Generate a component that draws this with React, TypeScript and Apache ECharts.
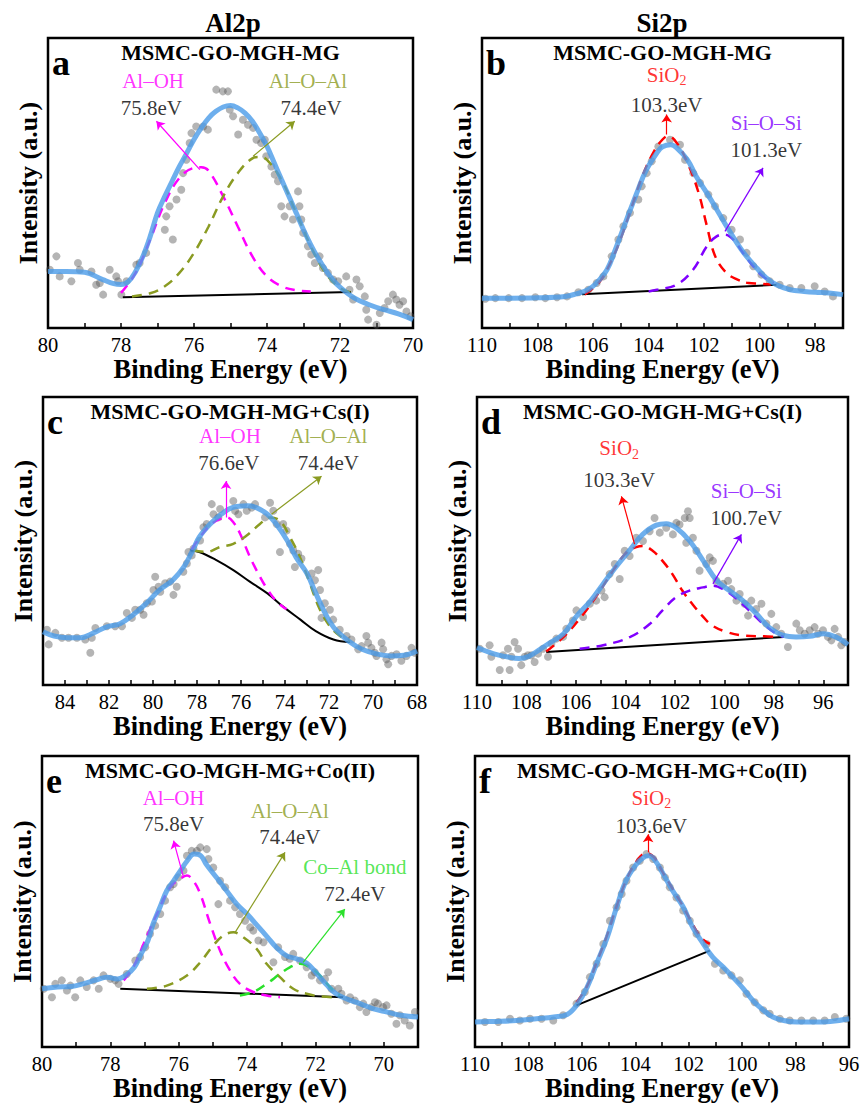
import React, { useEffect, useRef } from "react";
import * as echarts from "echarts";

type P = [number, number];

const FONT = "Liberation Serif";
const MAG = "#FF00FF";
const OLIVE = "#8A9B22";
const RED = "#FF0000";
const PURPLE = "#8000FF";
const GREEN = "#2BE02B";
const BLACK = "#000000";

// ---------- Panel a: Al2p, MSMC-GO-MGH-MG ----------
const aScatter: P[] = [[79.95,20.1],[79.77,24.7],[79.68,17.8],[79.36,16.1],[79.18,22.4],[79.13,20.1],[78.81,19.5],[78.68,14.9],[78.58,15.5],[78.49,11.5],[78.31,20.1],[78.13,17.8],[78.08,16.1],[77.99,11.5],[77.85,16.1],[77.58,21.8],[77.49,22.4],[77.31,25.9],[76.8,33.9],[76.76,38.5],[76.67,42],[76.58,30.5],[76.48,44.3],[76.35,47.7],[76.3,53.4],[76.21,58],[76.12,63.8],[76.07,67.2],[75.94,69.5],[75.75,69.5],[75.62,68.4],[75.39,82.2],[75.21,81.6],[75.07,81.6],[75.02,75.3],[74.93,73],[74.79,66.7],[74.66,71.8],[74.52,70.1],[74.38,69],[74.29,64.9],[74.16,63.8],[74.06,64.9],[74.02,59.2],[73.88,55.7],[73.79,52.9],[73.7,50.6],[73.61,42],[73.52,38.5],[73.38,42],[73.29,37.4],[73.15,47.1],[73.11,42],[73.06,37.4],[73.01,32.8],[72.88,28.2],[72.79,25.3],[72.69,22.4],[72.56,24.7],[72.47,20.7],[72.33,19],[72.19,16.7],[72.05,16.1],[71.83,17.8],[71.74,13.2],[71.64,9.8],[71.55,16.7],[71.46,14.4],[71.32,10.9],[71.28,6.3],[71.23,2.9],[71,1.1],[70.91,5.2],[70.78,6.9],[70.68,9.2],[70.55,11.5],[70.46,9.8],[70.37,8],[70.27,9.2],[70.18,5.7],[70.07,4]];
const aFit: P[] = [[80,19.5],[79.5,19.5],[79,19.2],[78.5,16.7],[78.2,15.3],[78,15],[77.8,16],[77.6,19.5],[77.4,24.7],[77.2,31.6],[77,39.7],[76.8,45.4],[76.6,50.6],[76.4,55.7],[76.2,60.3],[76,65],[75.8,69],[75.6,72.4],[75.4,74.7],[75.2,76.2],[75,76.7],[74.8,75.9],[74.6,74.1],[74.4,71.3],[74.2,67.2],[74,62.6],[73.8,56.9],[73.6,51.1],[73.4,45.4],[73.2,39.7],[73,33.9],[72.8,28.7],[72.6,24.1],[72.4,20.1],[72.2,16.7],[72,14.1],[71.6,10.3],[71.2,8],[70.8,6.3],[70.4,4.9],[70,2.9]];
const aBaseline: P[] = [[77.95,10.6],[71.7,12.4]];
const aAlOH: P[] = [[78,12.1],[77.6,19],[77.2,30.5],[76.8,43.1],[76.4,51.7],[76,55.2],[75.8,55.4],[75.6,54.2],[75.2,45.4],[74.8,35],[74.4,24.7],[74,17.8],[73.6,14.4],[73.2,13],[72.8,12.6]];
const aAlOAl: P[] = [[77.7,10.9],[77.2,12],[76.8,14.4],[76.4,19],[76,25.9],[75.6,35],[75.2,45.4],[74.8,53.4],[74.4,58.5],[74.2,59],[74,58],[73.6,51],[73.2,39.7],[72.8,28.2],[72.4,19],[72,13.8],[71.7,12.3]];
const aArrows: number[][] = [[75.84,54.6,77.03,71.3],[74.38,59.2,73.24,71.3]];
const aLabels = [
  { t: "Al–OH", x: 77.12, y: 85.1 },
  { t: "75.8eV", x: 77.17, y: 75.9 },
  { t: "Al–O–Al", x: 72.88, y: 85.1 },
  { t: "74.4eV", x: 72.79, y: 75.9 },
];

// ---------- Panel b: Si2p, MSMC-GO-MGH-MG ----------
const bScatter: P[] = [[109.88,10.1],[109.52,10.3],[109.04,10.3],[108.56,10.3],[108.08,10.6],[107.72,10.3],[107.3,10.6],[106.94,10.9],[106.53,12.3],[106.17,13.2],[105.87,15.5],[105.63,17.8],[105.33,24.7],[105.09,30.5],[104.91,35.1],[104.67,39.7],[104.37,44.3],[104.25,48.9],[104.07,53.4],[103.89,57.5],[103.65,62.6],[103.23,64.9],[102.87,63.2],[102.69,58],[102.39,53.4],[102.15,50],[101.85,46],[101.61,42],[101.31,37.9],[101.01,33.9],[100.71,30.5],[100.47,25.9],[100.23,21.3],[99.94,18.4],[99.64,16.1],[99.28,14.9],[98.92,13.8],[98.5,13.8],[98.02,14.4],[97.66,12.6],[97.36,10.9]];
const bFit: P[] = [[110,10.3],[109,10.3],[108,10.4],[107,10.9],[106.6,11.8],[106.2,13.1],[105.9,15.3],[105.5,20.1],[105.2,27],[104.8,37.2],[104.4,47.2],[104.1,54.2],[103.7,60.4],[103.5,62.5],[103.2,63.2],[103,62.2],[102.6,58],[102.3,52.5],[101.9,46.5],[101.5,40.1],[101.2,35.2],[100.8,29],[100.5,25],[100.1,20.6],[99.8,17.6],[99.4,14.9],[98.9,13.2],[98.4,12.6],[98,12.3],[97.5,12.1],[97,11.5]];
const bBaseline: P[] = [[106.4,11.6],[99.4,14.9]];
const bSiO2: P[] = [[106.3,11.6],[105.8,15.5],[105.4,22],[105,31],[104.6,42],[104.2,53],[103.8,61],[103.5,65],[103.3,66.2],[103,64],[102.6,57],[102.2,46.6],[101.9,35.1],[101.6,24.7],[101.2,19],[100.8,16.7],[100.4,15.5],[100,15.3],[99.6,15]];
const bSiOSi: P[] = [[104,12.6],[103.7,13.2],[103,14.9],[102.4,20.1],[101.9,28.2],[101.55,31.6],[101.25,32.2],[100.95,30.5],[100.6,25.9],[100.23,21.3],[99.88,17.8],[99.5,15.5]];
const bArrows: number[][] = [[103.35,66.7,103.35,73.6],[101.25,33.3,99.88,55.2]];
const bLabels = [
  { t: "SiO2", x: 103.35, y: 87.3 },
  { t: "103.3eV", x: 103.35, y: 77 },
  { t: "Si–O–Si", x: 99.76, y: 70.7 },
  { t: "101.3eV", x: 99.76, y: 61.5 },
];

// ---------- Panel c: Al2p, +Cs(I) ----------
const cScatter: P[] = [[84.82,19.2],[84.74,14.1],[84.44,18.1],[84.14,16.4],[83.84,16.4],[83.46,16.4],[83.08,15.8],[82.85,11.2],[82.78,16.4],[82.62,19.8],[82.1,20.4],[81.72,20.4],[81.41,20.4],[81.19,25],[80.96,23.3],[80.81,26.1],[80.58,26.1],[80.43,24.4],[80.28,28.4],[80.05,29],[79.98,33],[79.9,37.6],[79.75,34.1],[79.67,32.4],[79.45,35.3],[79.22,35.9],[79.07,31.3],[78.92,34.1],[78.62,39.3],[78.46,42.2],[78.39,46.2],[78.24,45],[78.16,47.3],[77.86,50.2],[77.71,54.8],[77.56,55.9],[77.33,62.8],[77.25,59.3],[77.03,58.2],[76.95,61.1],[76.35,63.9],[76.27,60.5],[76.12,59.3],[75.89,62.8],[75.74,60.5],[75.51,61.6],[75.36,62.8],[74.91,58.2],[74.68,63.3],[74.53,60.5],[74.38,55.9],[74.23,46.2],[74.08,55.9],[73.93,53.6],[73.77,49],[73.62,46.7],[73.55,41],[73.4,45.6],[73.25,43.9],[72.79,38.7],[72.64,36.4],[72.49,39.9],[72.41,33],[72.34,23.3],[72.19,28.4],[71.96,26.1],[71.81,22.7],[71.51,19.2],[71.2,17],[70.98,15.8],[70.67,12.4],[70.52,13.5],[70.3,17],[70.22,14.7],[70.07,12.9],[69.92,11.2],[69.84,10.1],[69.61,14.7],[69.54,12.4],[69.39,8.9],[69.31,7.2],[69.16,10.1],[68.93,10.7],[68.71,8.4],[68.48,10.1],[68.25,12.9],[68.1,11.2]];
const cFit: P[] = [[85,18.5],[84.5,17],[83.9,16.4],[83.3,16.4],[82.7,18.1],[82.1,20.2],[81.5,21.3],[80.9,24.4],[80.3,28.4],[79.7,33],[79.1,36.4],[78.6,41],[78.2,46.7],[77.9,51.3],[77.4,55.9],[76.9,59.3],[76.4,61.6],[75.7,62.2],[75.3,61.6],[74.8,59.3],[74.4,55.9],[73.9,50.2],[73.5,44.4],[73,38.7],[72.6,31.8],[72.1,23.8],[71.7,19.2],[71.1,15.2],[70.5,12.4],[69.8,10.7],[69.2,10.1],[68.6,10.3],[68,11.8]];
const cBaseline: P[] = [[78.3,46.7],[77.9,46.2],[77.1,43.3],[76.35,39.9],[75.6,35.9],[74.8,31.8],[74.1,27.3],[73.3,22.7],[72.6,18.7],[71.8,15.8],[71.05,14.9]];
const cAlOH: P[] = [[78.24,47],[77.9,51],[77.4,55.5],[77,57.5],[76.65,58.2],[76.3,56],[76.04,52.5],[75.59,44.4],[75.14,37.6],[74.83,33.6],[74.38,29],[73.93,26.3]];
const cAlOAl: P[] = [[78.16,46.7],[77.56,46.2],[76.95,47.9],[76.35,49],[75.74,51.9],[75.14,55.9],[74.68,58.2],[74.23,57],[73.77,51.3],[73.32,44.4],[72.87,35.3],[72.41,26.1],[71.96,20.4],[71.5,17],[71.05,15.2]];
const cArrows: number[][] = [[76.68,58.2,76.68,70.8],[74.61,59.3,72.34,72.5]];
const cLabels = [
  { t: "Al–OH", x: 76.5, y: 86.3 },
  { t: "76.6eV", x: 76.55, y: 77.1 },
  { t: "Al–O–Al", x: 72.03, y: 86.3 },
  { t: "74.4eV", x: 72.03, y: 77.1 },
];

// ---------- Panel d: Si2p, +Cs(I) ----------
const dScatter: P[] = [[109.89,12.6],[109.49,13.8],[109.42,9.8],[109.08,5.2],[108.95,10.3],[108.75,12.6],[108.68,5.2],[108.61,9.8],[108.48,14.9],[108.34,12.6],[108.21,6.9],[108.07,9.8],[107.94,10.3],[107.8,10.3],[107.67,8],[107.53,10.9],[107.33,12.6],[107.13,9.8],[106.99,14.4],[106.79,16.1],[106.52,16.7],[106.39,19.5],[106.12,22.4],[105.98,25.9],[105.71,23.6],[105.44,28.2],[105.18,29.3],[104.97,32.8],[104.84,30.5],[104.64,38.5],[104.43,42],[104.23,36.8],[104.03,46.6],[103.83,44.8],[103.56,51.1],[103.29,50],[103.02,53.4],[102.82,58],[102.61,52.9],[102.35,54.6],[102.08,52.3],[101.94,56.3],[101.81,55.7],[101.6,58],[101.47,60.3],[101.4,58],[101.54,49.4],[101.27,51.1],[101.13,46.6],[101,39.7],[100.73,42],[100.59,44.3],[100.46,43.1],[100.32,36.2],[100.05,35.1],[99.85,36.2],[99.72,33.3],[99.51,29.3],[99.38,31.6],[99.18,28.2],[99.04,24.1],[98.91,29.3],[98.71,26.4],[98.5,28.2],[98.3,21.3],[98.1,24.7],[97.9,20.1],[97.7,17.8],[97.43,13.2],[97.09,21.3],[96.95,19],[96.75,17.8],[96.55,19],[96.35,20.1],[96.21,17.8],[96.01,19],[95.81,16.7],[95.67,15.5],[95.54,19.5],[95.4,16.7],[95.27,13.8],[95.13,14.9]];
const dFit: P[] = [[110,13],[109.35,10.9],[108.8,9.8],[108.3,9.2],[107.9,10],[107.5,12.1],[107.1,14.4],[106.5,17.8],[106,23.6],[105.4,29.3],[104.9,35.1],[104.4,40.8],[103.8,47.1],[103.3,52.3],[102.75,55.5],[102.35,56],[101.95,54.6],[101.4,50],[100.85,43.1],[100.3,36.2],[99.8,32.8],[99.25,29.3],[98.7,24.7],[98.2,20.1],[97.6,17.2],[97.1,16.7],[96.55,16.9],[96,17.8],[95.5,16.7],[95,14]];
const dBaseline: P[] = [[107.2,11.5],[97.6,16.7]];
const dSiO2: P[] = [[107.2,11.6],[106.5,16.7],[105.85,23],[105.2,30.5],[104.5,39.7],[103.96,46],[103.56,47.9],[103.3,48.3],[102.9,46.6],[102.5,43.1],[102.1,38.5],[101.7,32.8],[101.3,28.2],[100.9,24.1],[100.5,20.7],[99.9,18.4],[99.25,17.2],[98.4,16.9],[97.9,16.7]];
const dSiOSi: P[] = [[105.85,12.6],[104.9,13.8],[103.8,16.7],[103,21.3],[102.5,25.9],[101.95,30.5],[101.4,32.8],[100.86,33.9],[100.46,34.5],[100.05,33.3],[99.5,29.9],[99,25.9],[98.44,21.3],[97.9,17.8],[97.6,16.7]];
const dArrows: number[][] = [[103.63,48.9,104.16,65.5],[100.46,35.1,99.31,52.3]];
const dLabels = [
  { t: "SiO2", x: 104.25, y: 82.2 },
  { t: "103.3eV", x: 104.25, y: 71.3 },
  { t: "Si–O–Si", x: 99.11, y: 67.2 },
  { t: "100.7eV", x: 99.11, y: 58 },
];

// ---------- Panel e: Al2p, +Co(II) ----------
const eScatter: P[] = [[79.95,20],[79.71,17.1],[79.61,21.7],[79.42,22.9],[79.27,19.4],[79.17,21.1],[79.03,17.1],[78.88,22.9],[78.69,20.6],[78.49,22.9],[78.34,20],[78.2,24.6],[78,23.4],[77.86,22.9],[77.76,21.7],[77.52,25.1],[77.27,29.7],[77.13,30.9],[76.98,34.3],[76.84,38.9],[76.69,41.7],[76.54,45.7],[76.4,50.3],[76.25,54.9],[76.15,56],[76.01,58.3],[75.86,60.6],[75.76,65.7],[75.62,67.4],[75.47,67.4],[75.37,68.6],[75.18,68],[75.13,64.6],[74.99,61.7],[74.84,49.1],[74.79,57.1],[74.64,54.9],[74.5,50.3],[74.35,48],[74.21,45.7],[74.06,43.4],[73.91,41.1],[73.82,40],[73.67,36.6],[73.52,36],[73.23,29.1],[73.09,34.3],[72.89,30.9],[72.75,30.3],[72.65,32],[72.45,29.7],[72.26,27.4],[72.11,24.6],[72.02,25.7],[71.87,22.9],[71.72,23.4],[71.63,25.7],[71.53,20],[71.33,20],[71.24,18.3],[71.09,16],[70.99,17.1],[70.85,16],[70.7,13.7],[70.6,14.9],[70.51,12],[70.36,13.7],[70.26,15.4],[70.17,14.9],[70.02,13.7],[69.92,14.3],[69.78,11.4],[69.63,8],[69.53,10.9],[69.39,9.1],[69.24,7.4],[69.09,12]];
const eFit: P[] = [[80,20],[79.55,20.6],[79.15,20.8],[78.8,21.7],[78.4,23.1],[78.1,24],[77.8,23.4],[77.55,24.6],[77.3,27.4],[77.1,32],[76.9,36.6],[76.75,42.3],[76.55,48],[76.35,53.7],[76.15,57.1],[75.95,60.6],[75.75,64],[75.55,66.3],[75.35,65.7],[75.2,62.9],[74.9,58.3],[74.6,53.7],[74.3,49.1],[74,45.7],[73.7,41.7],[73.4,37.7],[73.15,34.3],[72.85,31.4],[72.55,30.3],[72.25,28.8],[71.95,25.1],[71.65,21.1],[71.4,18.3],[71.1,16.6],[70.7,14.9],[70.3,13.1],[69.9,12],[69.5,10.9],[69,10.3]];
const eBaseline: P[] = [[77.71,20],[71.19,17.1]];
const eAlOH: P[] = [[77.61,22.9],[77.3,28],[77.03,35.4],[76.64,45.7],[76.25,54.9],[75.96,57.7],[75.76,58.9],[75.57,57.1],[75.37,52.6],[75.08,42.3],[74.79,33.1],[74.5,26.3],[74.21,21.7],[73.82,18.9],[73.43,17.7],[73.04,17.1]];
const eAlOAl: P[] = [[76.93,20],[76.35,21.1],[75.76,24.6],[75.37,29.1],[74.99,34.9],[74.69,38.3],[74.4,39.4],[74.11,37.7],[73.72,33.7],[73.43,28.6],[73.04,24],[72.65,20],[72.26,18.3],[71.87,17.4],[71.48,17.1]];
const eCoAl: P[] = [[74.21,17.7],[73.82,18.9],[73.43,21.7],[73.04,25.1],[72.75,27.4],[72.45,28.6],[72.16,27.4],[71.87,24.6],[71.58,20.6],[71.29,17.7]];
const eArrows: number[][] = [[75.86,58.3,76.15,70.9],[74.35,39.4,72.89,66.9],[72.36,29.1,71.14,47.4]];
const eLabels = [
  { t: "Al–OH", x: 76.15, y: 85.7 },
  { t: "75.8eV", x: 76.15, y: 76.6 },
  { t: "Al–O–Al", x: 72.75, y: 81.1 },
  { t: "74.4eV", x: 72.75, y: 72 },
  { t: "Co–Al bond", x: 70.85, y: 61.7 },
  { t: "72.4eV", x: 70.85, y: 52.6 },
];

// ---------- Panel f: Si2p, +Co(II) ----------
const fScatter: P[] = [[109.63,8.6],[109.13,8.6],[108.69,9.7],[108.32,9.1],[107.94,9.7],[107.51,9.7],[107.07,9.1],[106.7,10.9],[106.2,14.9],[105.89,18.9],[105.7,24],[105.45,28.6],[105.2,35.4],[104.95,43.4],[104.7,48],[104.51,52.6],[104.33,57.1],[104.08,61.7],[103.83,64],[103.58,66.3],[103.33,64.6],[103.08,61.7],[102.89,58.3],[102.71,54.9],[102.46,51.4],[102.21,46.9],[101.96,43.4],[101.71,38.9],[101.33,35.4],[101.02,28.6],[100.71,26.3],[100.4,24.6],[100.09,22.9],[99.84,18.3],[99.53,15.4],[99.21,12.6],[98.97,11.4],[98.59,9.7],[98.22,9.1],[97.78,9.1],[97.34,9.1],[96.91,9.1],[96.53,10.3],[96.1,9.7]];
const fFit: P[] = [[110,8.6],[109.2,8.8],[108.45,9.1],[107.7,9.7],[107.05,10.3],[106.55,11.2],[106.2,14.3],[105.8,20.6],[105.45,28.6],[105.05,37.7],[104.7,48],[104.35,57.1],[103.95,62.9],[103.7,65.1],[103.5,65.7],[103.3,64.6],[102.95,59.4],[102.6,53.7],[102.2,48],[101.85,41.1],[101.45,35.4],[101.1,30.9],[100.7,27.4],[100.35,24],[99.95,20],[99.6,16],[99.2,12.6],[98.85,10.3],[98.45,9.1],[97.95,8.6],[97.35,8.6],[96.7,8.8],[96,9.7]];
const fBaseline: P[] = [[106.2,14.3],[101.21,33.1]];
const fSiO2: P[] = [[106.2,15.3],[105.8,21],[105.45,29],[105.07,38],[104.7,48.3],[104.33,57.5],[103.95,63.8],[103.6,66.6],[103.3,65.2],[102.96,59.8],[102.58,54],[102.21,48.3],[101.83,41.8],[101.5,37.2],[101.21,35.4]];
const fArrows: number[][] = [[103.52,66.9,103.52,73.1]];
const fLabels = [
  { t: "SiO2", x: 103.4, y: 85.7 },
  { t: "103.6eV", x: 103.4, y: 76 },
];

const labelColor: Record<string, string> = {
  "Al–OH": MAG, "Al–O–Al": OLIVE, "SiO2": RED, "Si–O–Si": PURPLE, "Co–Al bond": GREEN,
};

const panels = [
  { letter: "a", sub: "MSMC-GO-MGH-MG", grid: { left: 48, top: 38, width: 365, height: 290 }, min: 70, max: 80,
    scatter: aScatter, fit: aFit, baseline: aBaseline, comps: [{ d: aAlOH, c: MAG }, { d: aAlOAl, c: OLIVE }],
    arrows: aArrows, arrowColors: [MAG, OLIVE], labels: aLabels },
  { letter: "b", sub: "MSMC-GO-MGH-MG", grid: { left: 482, top: 38, width: 361, height: 290 }, min: 97, max: 110,
    scatter: bScatter, fit: bFit, baseline: bBaseline, comps: [{ d: bSiO2, c: RED }, { d: bSiOSi, c: PURPLE }],
    arrows: bArrows, arrowColors: [RED, PURPLE], labels: bLabels },
  { letter: "c", sub: "MSMC-GO-MGH-MG+Cs(I)", grid: { left: 43, top: 397, width: 374, height: 288 }, min: 68, max: 85,
    scatter: cScatter, fit: cFit, baseline: cBaseline, comps: [{ d: cAlOH, c: MAG }, { d: cAlOAl, c: OLIVE }],
    arrows: cArrows, arrowColors: [MAG, OLIVE], labels: cLabels },
  { letter: "d", sub: "MSMC-GO-MGH-MG+Cs(I)", grid: { left: 477, top: 397, width: 371, height: 288 }, min: 95, max: 110,
    scatter: dScatter, fit: dFit, baseline: dBaseline, comps: [{ d: dSiO2, c: RED }, { d: dSiOSi, c: PURPLE }],
    arrows: dArrows, arrowColors: [RED, PURPLE], labels: dLabels },
  { letter: "e", sub: "MSMC-GO-MGH-MG+Co(II)", grid: { left: 42, top: 756, width: 376, height: 291 }, min: 69, max: 80,
    scatter: eScatter, fit: eFit, baseline: eBaseline, comps: [{ d: eAlOH, c: MAG }, { d: eAlOAl, c: OLIVE }, { d: eCoAl, c: GREEN }],
    arrows: eArrows, arrowColors: [MAG, OLIVE, GREEN], labels: eLabels },
  { letter: "f", sub: "MSMC-GO-MGH-MG+Co(II)", grid: { left: 475, top: 756, width: 374, height: 291 }, min: 96, max: 110,
    scatter: fScatter, fit: fFit, baseline: fBaseline, comps: [{ d: fSiO2, c: RED }],
    arrows: fArrows, arrowColors: [RED], labels: fLabels },
];

function buildOption() {
  const grids: any[] = [];
  const xAxes: any[] = [];
  const yAxes: any[] = [];
  const series: any[] = [];
  const graphics: any[] = [];

  panels.forEach((p, i) => {
    grids.push({ ...p.grid, show: true, borderColor: "#000", borderWidth: 2.5, backgroundColor: "transparent" });
    xAxes.push({
      type: "value", gridIndex: i, min: p.min, max: p.max, interval: 1, inverse: true,
      axisLine: { show: false },
      axisTick: { show: true, inside: true, length: 5, lineStyle: { color: "#000", width: 1.5 } },
      axisLabel: { formatter: (v: number) => (Math.round(v) % 2 === 0 ? String(v) : ""), color: "#000", fontSize: 20.5, fontFamily: FONT, margin: 6 },
      splitLine: { show: false },
      name: "Binding Energy (eV)", nameLocation: "middle", nameGap: 26,
      nameTextStyle: { fontSize: 26.5, fontWeight: "bold", fontFamily: FONT, color: "#000" },
    });
    yAxes.push({
      type: "value", gridIndex: i, min: 0, max: 100,
      axisLine: { show: false }, axisTick: { show: false }, axisLabel: { show: false }, splitLine: { show: false },
      name: "Intensity (a.u.)", nameLocation: "middle", nameGap: 7, nameRotate: 90,
      nameTextStyle: { fontSize: 26, fontWeight: "bold", fontFamily: FONT, color: "#000" },
    });
    const ax = { xAxisIndex: i, yAxisIndex: i };
    series.push({ type: "scatter", ...ax, data: p.scatter, symbolSize: 8, itemStyle: { color: "rgba(85,85,85,0.55)" }, z: 2, silent: true });
    series.push({ type: "line", ...ax, data: p.baseline, showSymbol: false, smooth: p.baseline.length > 2 ? 0.4 : false,
      lineStyle: { color: BLACK, width: 2 }, z: 3, silent: true });
    p.comps.forEach((c) => {
      series.push({ type: "line", ...ax, data: c.d, smooth: 0.4, showSymbol: false,
        lineStyle: { color: c.c, width: 2.5, type: [10, 7] }, z: 3, silent: true });
    });
    series.push({ type: "line", ...ax, data: p.fit, smooth: 0.4, showSymbol: false,
      lineStyle: { color: "rgba(74,155,232,0.8)", width: 5 }, z: 4, silent: true });
    series.push({
      type: "lines", coordinateSystem: "cartesian2d", ...ax,
      data: p.arrows.map((a, k) => ({ coords: [[a[0], a[1]], [a[2], a[3]]], lineStyle: { color: p.arrowColors[k] } })),
      symbol: ["none", "arrow"], symbolSize: 8, lineStyle: { width: 1.2, opacity: 1 }, z: 5, silent: true,
    });
    series.push({
      type: "scatter", ...ax, symbolSize: 1, itemStyle: { color: "rgba(0,0,0,0)" }, z: 6, silent: true,
      data: p.labels.map((l) => ({ name: l.t, value: [l.x, l.y], label: { color: labelColor[l.t] || "#000" } })),
      label: {
        show: true, position: "inside", fontFamily: FONT, fontSize: 21,
        formatter: (q: any) => (q.name === "SiO2" ? "{m|SiO}{s|2}" : q.name),
        rich: {
          m: { color: RED, fontSize: 21, fontFamily: FONT },
          s: { color: RED, fontSize: 14, fontFamily: FONT, padding: [12, 0, 0, 0] },
        },
      },
    });

    const g = p.grid;
    graphics.push({
      type: "text", x: g.left + g.width / 2, y: g.top + 14, silent: true,
      style: { text: p.sub, fontFamily: FONT, fontSize: 22, fontWeight: "bold", fill: "#000", align: "center", verticalAlign: "middle" },
    });
    graphics.push({
      type: "text", x: g.left + 4, y: g.top + 25, silent: true,
      style: { text: p.letter, fontFamily: FONT, fontSize: 36, fontWeight: "bold", fill: "#000", align: "left", verticalAlign: "middle" },
    });
  });

  graphics.push({ type: "text", x: 233, y: 23, silent: true,
    style: { text: "Al2p", fontFamily: FONT, fontSize: 27, fontWeight: "bold", fill: "#000", align: "center", verticalAlign: "middle" } });
  graphics.push({ type: "text", x: 662, y: 23, silent: true,
    style: { text: "Si2p", fontFamily: FONT, fontSize: 27, fontWeight: "bold", fill: "#000", align: "center", verticalAlign: "middle" } });

  return {
    animation: false,
    backgroundColor: "#fff",
    textStyle: { fontFamily: FONT },
    grid: grids, xAxis: xAxes, yAxis: yAxes, series, graphic: graphics,
  };
}

export default function App() {
  const ref = useRef<HTMLDivElement>(null);
  useEffect(() => {
    if (!ref.current) return;
    const chart = echarts.init(ref.current, undefined, { renderer: "svg" });
    chart.setOption(buildOption() as any);
    return () => chart.dispose();
  }, []);
  return <div ref={ref} style={{ position: "absolute", left: 0, top: 0, width: 863, height: 1104 }} />;
}
